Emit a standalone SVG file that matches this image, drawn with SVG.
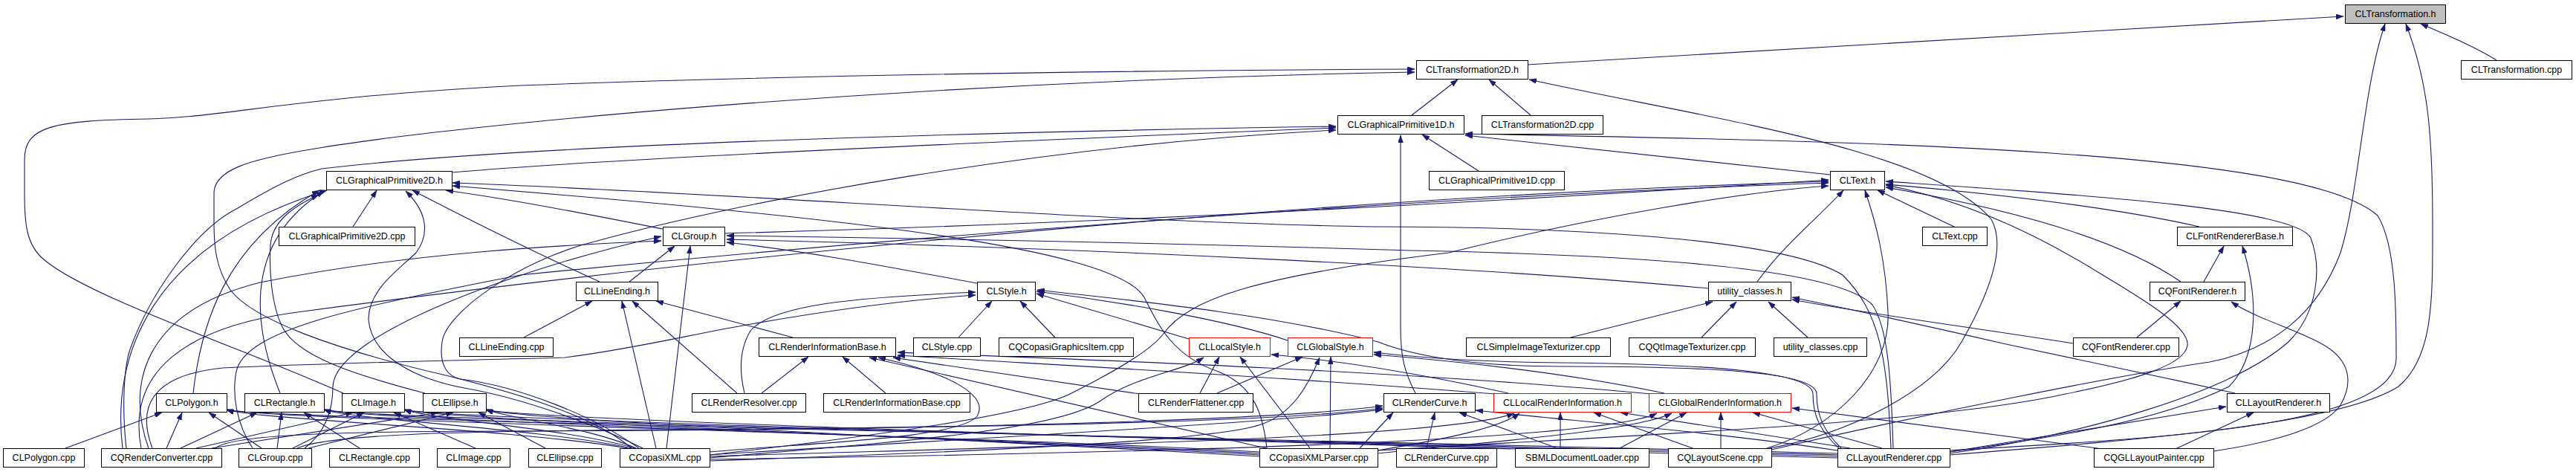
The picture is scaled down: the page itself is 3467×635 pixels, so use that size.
<svg xmlns="http://www.w3.org/2000/svg" width="3467" height="635" viewBox="0 0 3467 635">
<style>
.n rect{fill:#fff;stroke:#000;stroke-width:1}
.n.red rect{stroke:#f00}
.n.root rect{fill:#bfbfbf}
.n text{font-family:"Liberation Sans",Arial,Helvetica,sans-serif;font-size:12.5px;text-anchor:middle;fill:#000}
#edges path{fill:none;stroke:#191970;stroke-width:1.1;marker-end:url(#arr)}
</style>
<defs>
<marker id="arr" viewBox="0 0 10 7" refX="10" refY="3.5" markerWidth="10" markerHeight="7" orient="auto" markerUnits="userSpaceOnUse">
<path d="M0,0 L10,3.5 L0,7 z" fill="#191970" stroke="#191970" stroke-width="0.5"/>
</marker>
</defs>
<rect width="3467" height="635" fill="#fff"/>
<g id="edges">
<path d="M2056,87 C2500,62 2900,36 3154,22"/>
<path d="M3360,81 C3330,62 3290,46 3258,32"/>
<path d="M2384,605 C2600,555 2850,505 2974,487 C3060,470 3120,420 3150,340 C3175,260 3180,120 3210,32"/>
<path d="M2624,612 C2900,590 3150,570 3228,520 C3276,480 3274,400 3274,300 C3274,180 3268,110 3238,32"/>
<path d="M1900,155 L1962,107"/>
<path d="M2060,155 L2004,107"/>
<path d="M462,529 C330,470 120,400 60,350 C35,330 33,300 33,260 L33,215 C33,170 70,162 200,160 C300,158 400,130 700,115 C1100,100 1500,95 1904,93"/>
<path d="M850,603 C800,560 700,530 600,505 C450,470 340,430 310,390 C290,360 288,330 288,300 L288,260 C288,230 330,215 424,200 C600,170 1200,110 1904,97"/>
<path d="M2382,603 C2480,585 2600,530 2640,460 C2680,390 2700,330 2680,295 C2600,200 2300,160 2058,107"/>
<path d="M608,232 C800,215 1200,196 1798,172"/>
<path d="M1990,230 L1914,181"/>
<path d="M2463,235 L1972,182"/>
<path d="M1905,529 C1890,500 1885,480 1885,440 L1885,182"/>
<path d="M2624,606 C2900,590 3230,575 3225,480 C3225,420 3225,330 3200,290 C3100,200 2500,190 1972,180"/>
<path d="M170,603 C165,560 165,500 175,470 C200,400 260,310 320,280 C370,250 400,235 433,227 C700,195 1300,178 1798,170"/>
<path d="M860,603 C800,560 700,520 620,510 C595,505 592,480 595,460 C600,420 700,350 800,325 C1000,270 1400,195 1798,175"/>
<path d="M475,305 L507,256"/>
<path d="M892,308 C800,290 700,270 600,256"/>
<path d="M807,379 C720,340 640,300 555,256"/>
<path d="M260,529 C270,440 300,330 430,256"/>
<path d="M377,529 C345,450 320,330 436,257"/>
<path d="M572,529 C480,505 400,480 380,440 C365,410 362,360 364,330 C366,300 390,280 429,262"/>
<path d="M865,603 C800,570 700,535 625,522 C560,510 500,480 496,430 C495,390 540,360 560,340 C575,320 580,290 546,257"/>
<path d="M165,603 C150,480 200,330 440,256"/>
<path d="M2545,603 C2540,480 2530,420 2480,370 C2400,320 2100,305 1850,305 C1500,300 1000,260 609,246"/>
<path d="M1705,603 C1700,560 1690,520 1640,500 C1580,480 1560,440 1540,400 C1500,330 1100,290 609,250"/>
<path d="M2630,305 L2527,256"/>
<path d="M2960,305 C2850,280 2700,262 2538,248"/>
<path d="M2365,379 C2400,330 2450,290 2481,256"/>
<path d="M2935,379 C2850,320 2700,280 2538,252"/>
<path d="M975,314 C1500,300 2000,272 2461,242"/>
<path d="M2378,603 C2470,575 2545,500 2541,420 C2538,350 2525,300 2510,256"/>
<path d="M2624,610 C2800,585 3000,530 3080,460 C3120,420 3125,360 3110,320 C3090,280 2800,262 2538,244"/>
<path d="M1854,606 C2200,585 2600,570 2780,530 C2880,510 2940,490 2944,465 C2948,440 2880,400 2830,370 C2750,320 2650,270 2538,249"/>
<path d="M190,603 C170,500 250,440 400,420 C700,380 1600,270 2461,244"/>
<path d="M340,603 C318,570 312,530 318,500 C330,440 500,410 700,370 C1200,320 1900,265 2461,246"/>
<path d="M955,612 C1150,590 1380,560 1440,530 C1500,500 1550,470 1565,450 C1600,400 1700,370 1950,340 C2150,290 2350,258 2461,250"/>
<path d="M847,379 L908,331"/>
<path d="M897,603 L929,331"/>
<path d="M1320,382 C1200,360 1100,340 978,326"/>
<path d="M200,603 C170,520 190,420 350,380 C550,340 750,330 890,324"/>
<path d="M410,603 C440,580 448,550 448,520 C450,450 700,360 890,318"/>
<path d="M2548,603 C2545,500 2540,440 2520,410 C2480,370 2300,345 1900,337 C1500,325 1200,320 978,317"/>
<path d="M2299,388 C2000,360 1500,335 978,322"/>
<path d="M2966,379 L2993,331"/>
<path d="M2624,608 C2750,590 2900,570 3000,520 C3040,480 3040,400 3018,331"/>
<path d="M705,454 L797,405"/>
<path d="M883,603 L837,405"/>
<path d="M992,529 L851,405"/>
<path d="M1067,454 L883,405"/>
<path d="M1290,454 L1335,405"/>
<path d="M1420,454 L1373,405"/>
<path d="M1600,456 L1395,395"/>
<path d="M1733,458 C1650,430 1500,405 1395,392"/>
<path d="M2478,603 C2455,580 2445,560 2445,530 C2445,500 2300,493 2100,493 C1950,493 1880,470 1855,460 C1700,420 1500,402 1396,390"/>
<path d="M1002,529 C995,500 995,470 1010,445 C1040,410 1150,400 1313,393"/>
<path d="M205,603 C185,550 200,505 300,495 C450,488 650,484 760,481 C850,470 930,450 1000,438 C1100,420 1200,405 1313,397"/>
<path d="M2114,454 L2305,406"/>
<path d="M2290,454 L2337,406"/>
<path d="M2433,454 L2380,406"/>
<path d="M2790,462 C2650,440 2500,420 2412,403"/>
<path d="M3008,529 C2900,505 2780,480 2700,463 C2600,440 2500,418 2412,400"/>
<path d="M2876,454 L2935,405"/>
<path d="M2979,607 C3060,595 3130,575 3150,545 C3170,510 3160,480 3120,460 C3080,440 3030,425 3003,406"/>
<path d="M1025,529 L1088,480"/>
<path d="M1192,529 L1134,480"/>
<path d="M1534,530 C1400,510 1300,495 1202,481"/>
<path d="M2012,530 C1700,505 1400,490 1208,478"/>
<path d="M2222,530 C1900,500 1500,485 1208,474"/>
<path d="M1704,603 L1170,481"/>
<path d="M955,608 C1100,595 1290,590 1315,560 C1330,535 1290,505 1182,481"/>
<path d="M1615,529 L1641,480"/>
<path d="M1763,603 L1669,480"/>
<path d="M955,616 C1200,595 1420,580 1480,540 C1530,505 1590,500 1620,481"/>
<path d="M2030,529 C1900,500 1800,485 1711,477"/>
<path d="M1638,529 L1753,480"/>
<path d="M955,620 C1400,605 1650,590 1700,570 C1740,555 1760,520 1776,481"/>
<path d="M1790,603 L1791,480"/>
<path d="M2240,529 C2100,500 1950,485 1849,477"/>
<path d="M2475,603 C2450,580 2440,560 2440,530 C2440,500 2300,490 2100,488 C1990,487 1900,480 1849,474"/>
<path d="M88,603 L218,555"/>
<path d="M224,603 L245,555"/>
<path d="M352,603 L281,555"/>
<path d="M845,603 C683,576 345,565 305,551"/>
<path d="M1695,608 C1300,585 345,565 305,551"/>
<path d="M2473,610 C1800,592 345,565 305,551"/>
<path d="M243,603 L346,555"/>
<path d="M373,603 L379,555"/>
<path d="M484,603 L409,555"/>
<path d="M850,603 C724,576 476,565 436,551"/>
<path d="M1695,610 C1300,587 476,565 436,551"/>
<path d="M2473,612 C1800,594 476,565 436,551"/>
<path d="M264,603 L475,555"/>
<path d="M394,603 L490,555"/>
<path d="M640,603 L530,555"/>
<path d="M855,603 C762,576 584,565 544,551"/>
<path d="M1695,612 C1300,589 584,565 544,551"/>
<path d="M2473,614 C1800,596 584,565 544,551"/>
<path d="M285,603 L590,555"/>
<path d="M415,603 L610,555"/>
<path d="M734,603 L644,555"/>
<path d="M860,605 C800,576 694,565 654,551"/>
<path d="M1695,614 C1300,591 694,565 654,551"/>
<path d="M2473,616 C1800,598 694,565 654,551"/>
<path d="M1920,603 L1931,555"/>
<path d="M2096,603 L1964,555"/>
<path d="M400,603 C440,585 600,580 900,578 C1400,575 1750,565 1861,549"/>
<path d="M955,612 C1300,590 1700,570 1861,551"/>
<path d="M1830,603 L1875,555"/>
<path d="M2473,606 C2300,580 2100,565 1986,552"/>
<path d="M290,603 C310,585 450,580 700,580 C1200,578 1700,568 1861,546"/>
<path d="M955,614 C1400,600 1950,590 2038,556"/>
<path d="M1854,606 C1950,590 2020,575 2045,556"/>
<path d="M2100,603 L2100,555"/>
<path d="M2278,603 L2145,555"/>
<path d="M2490,603 L2181,555"/>
<path d="M955,618 C1500,610 2150,595 2230,556"/>
<path d="M1854,610 C2000,595 2200,580 2250,556"/>
<path d="M2180,603 L2270,555"/>
<path d="M2316,603 L2316,555"/>
<path d="M2533,603 L2359,555"/>
<path d="M2830,604 C2650,580 2500,560 2412,549"/>
<path d="M2624,608 C2800,580 2920,560 2996,547"/>
<path d="M2930,603 L3033,555"/>
</g>
<g id="CLTransformation_h" class="n root"><rect x="3156.5" y="6.5" width="135" height="25"/><text x="3224" y="23">CLTransformation.h</text></g>
<g id="CLTransformation2D_h" class="n"><rect x="1906.5" y="81.5" width="150" height="25"/><text x="1981.5" y="98">CLTransformation2D.h</text></g>
<g id="CLTransformation_cpp" class="n"><rect x="3312.5" y="81.5" width="149" height="25"/><text x="3387" y="98">CLTransformation.cpp</text></g>
<g id="CLGraphicalPrimitive1D_h" class="n"><rect x="1800.5" y="155.5" width="170" height="25"/><text x="1885.5" y="172">CLGraphicalPrimitive1D.h</text></g>
<g id="CLTransformation2D_cpp" class="n"><rect x="1994.5" y="155.5" width="163" height="25"/><text x="2076" y="172">CLTransformation2D.cpp</text></g>
<g id="CLGraphicalPrimitive2D_h" class="n"><rect x="439.5" y="230.5" width="169" height="25"/><text x="524" y="247">CLGraphicalPrimitive2D.h</text></g>
<g id="CLGraphicalPrimitive1D_cpp" class="n"><rect x="1923.5" y="230.5" width="182" height="25"/><text x="2014.5" y="247">CLGraphicalPrimitive1D.cpp</text></g>
<g id="CLText_h" class="n"><rect x="2463.5" y="230.5" width="73" height="25"/><text x="2500" y="247">CLText.h</text></g>
<g id="CLGraphicalPrimitive2D_cpp" class="n"><rect x="375.5" y="305.5" width="183" height="25"/><text x="467" y="322">CLGraphicalPrimitive2D.cpp</text></g>
<g id="CLGroup_h" class="n"><rect x="892.5" y="305.5" width="83" height="25"/><text x="934" y="322">CLGroup.h</text></g>
<g id="CLText_cpp" class="n"><rect x="2587.5" y="305.5" width="87" height="25"/><text x="2631" y="322">CLText.cpp</text></g>
<g id="CLFontRendererBase_h" class="n"><rect x="2930.5" y="305.5" width="155" height="25"/><text x="3008" y="322">CLFontRendererBase.h</text></g>
<g id="CLLineEnding_h" class="n"><rect x="775.5" y="379.5" width="110" height="25"/><text x="830.5" y="396">CLLineEnding.h</text></g>
<g id="CLStyle_h" class="n"><rect x="1315.5" y="379.5" width="78" height="25"/><text x="1354.5" y="396">CLStyle.h</text></g>
<g id="utility_classes_h" class="n"><rect x="2299.5" y="379.5" width="111" height="25"/><text x="2355" y="396">utility_classes.h</text></g>
<g id="CQFontRenderer_h" class="n"><rect x="2893.5" y="379.5" width="128" height="25"/><text x="2957.5" y="396">CQFontRenderer.h</text></g>
<g id="CLLineEnding_cpp" class="n"><rect x="618.5" y="454.5" width="126" height="25"/><text x="681.5" y="471">CLLineEnding.cpp</text></g>
<g id="CLRenderInformationBase_h" class="n"><rect x="1021.5" y="454.5" width="184" height="25"/><text x="1113.5" y="471">CLRenderInformationBase.h</text></g>
<g id="CLStyle_cpp" class="n"><rect x="1229.5" y="454.5" width="90" height="25"/><text x="1274.5" y="471">CLStyle.cpp</text></g>
<g id="CQCopasiGraphicsItem_cpp" class="n"><rect x="1344.5" y="454.5" width="181" height="25"/><text x="1435" y="471">CQCopasiGraphicsItem.cpp</text></g>
<g id="CLLocalStyle_h" class="n red"><rect x="1600.5" y="454.5" width="109" height="25"/><text x="1655" y="471">CLLocalStyle.h</text></g>
<g id="CLGlobalStyle_h" class="n red"><rect x="1733.5" y="454.5" width="114" height="25"/><text x="1790.5" y="471">CLGlobalStyle.h</text></g>
<g id="CLSimpleImageTexturizer_cpp" class="n"><rect x="1973.5" y="454.5" width="194" height="25"/><text x="2070.5" y="471">CLSimpleImageTexturizer.cpp</text></g>
<g id="CQQtImageTexturizer_cpp" class="n"><rect x="2192.5" y="454.5" width="170" height="25"/><text x="2277.5" y="471">CQQtImageTexturizer.cpp</text></g>
<g id="utility_classes_cpp" class="n"><rect x="2387.5" y="454.5" width="125" height="25"/><text x="2450" y="471">utility_classes.cpp</text></g>
<g id="CQFontRenderer_cpp" class="n"><rect x="2790.5" y="454.5" width="142" height="25"/><text x="2861.5" y="471">CQFontRenderer.cpp</text></g>
<g id="CLPolygon_h" class="n"><rect x="210.5" y="529.5" width="95" height="25"/><text x="258" y="546">CLPolygon.h</text></g>
<g id="CLRectangle_h" class="n"><rect x="329.5" y="529.5" width="107" height="25"/><text x="383" y="546">CLRectangle.h</text></g>
<g id="CLImage_h" class="n"><rect x="460.5" y="529.5" width="84" height="25"/><text x="502.5" y="546">CLImage.h</text></g>
<g id="CLEllipse_h" class="n"><rect x="569.5" y="529.5" width="85" height="25"/><text x="612" y="546">CLEllipse.h</text></g>
<g id="CLRenderResolver_cpp" class="n"><rect x="931.5" y="529.5" width="153" height="25"/><text x="1008" y="546">CLRenderResolver.cpp</text></g>
<g id="CLRenderInformationBase_cpp" class="n"><rect x="1108.5" y="529.5" width="197" height="25"/><text x="1207" y="546">CLRenderInformationBase.cpp</text></g>
<g id="CLRenderFlattener_cpp" class="n"><rect x="1532.5" y="529.5" width="154" height="25"/><text x="1609.5" y="546">CLRenderFlattener.cpp</text></g>
<g id="CLRenderCurve_h" class="n"><rect x="1862.5" y="529.5" width="123" height="25"/><text x="1924" y="546">CLRenderCurve.h</text></g>
<g id="CLLocalRenderInformation_h" class="n red"><rect x="2010.5" y="529.5" width="185" height="25"/><text x="2103" y="546">CLLocalRenderInformation.h</text></g>
<g id="CLGlobalRenderInformation_h" class="n red"><rect x="2219.5" y="529.5" width="191" height="25"/><text x="2315" y="546">CLGlobalRenderInformation.h</text></g>
<g id="CLLayoutRenderer_h" class="n"><rect x="2997.5" y="529.5" width="138" height="25"/><text x="3066.5" y="546">CLLayoutRenderer.h</text></g>
<g id="CLPolygon_cpp" class="n"><rect x="4.5" y="603.5" width="109" height="25"/><text x="59" y="620">CLPolygon.cpp</text></g>
<g id="CQRenderConverter_cpp" class="n"><rect x="136.5" y="603.5" width="162" height="25"/><text x="217.5" y="620">CQRenderConverter.cpp</text></g>
<g id="CLGroup_cpp" class="n"><rect x="321.5" y="603.5" width="98" height="25"/><text x="370.5" y="620">CLGroup.cpp</text></g>
<g id="CLRectangle_cpp" class="n"><rect x="443.5" y="603.5" width="121" height="25"/><text x="504" y="620">CLRectangle.cpp</text></g>
<g id="CLImage_cpp" class="n"><rect x="588.5" y="603.5" width="98" height="25"/><text x="637.5" y="620">CLImage.cpp</text></g>
<g id="CLEllipse_cpp" class="n"><rect x="711.5" y="603.5" width="98" height="25"/><text x="760.5" y="620">CLEllipse.cpp</text></g>
<g id="CCopasiXML_cpp" class="n"><rect x="834.5" y="603.5" width="121" height="25"/><text x="895" y="620">CCopasiXML.cpp</text></g>
<g id="CCopasiXMLParser_cpp" class="n"><rect x="1695.5" y="603.5" width="159" height="25"/><text x="1775" y="620">CCopasiXMLParser.cpp</text></g>
<g id="CLRenderCurve_cpp" class="n"><rect x="1879.5" y="603.5" width="135" height="25"/><text x="1947" y="620">CLRenderCurve.cpp</text></g>
<g id="SBMLDocumentLoader_cpp" class="n"><rect x="2039.5" y="603.5" width="180" height="25"/><text x="2129.5" y="620">SBMLDocumentLoader.cpp</text></g>
<g id="CQLayoutScene_cpp" class="n"><rect x="2245.5" y="603.5" width="139" height="25"/><text x="2315" y="620">CQLayoutScene.cpp</text></g>
<g id="CLLayoutRenderer_cpp" class="n"><rect x="2473.5" y="603.5" width="151" height="25"/><text x="2549" y="620">CLLayoutRenderer.cpp</text></g>
<g id="CQGLLayoutPainter_cpp" class="n"><rect x="2818.5" y="603.5" width="161" height="25"/><text x="2899" y="620">CQGLLayoutPainter.cpp</text></g>
</svg>
